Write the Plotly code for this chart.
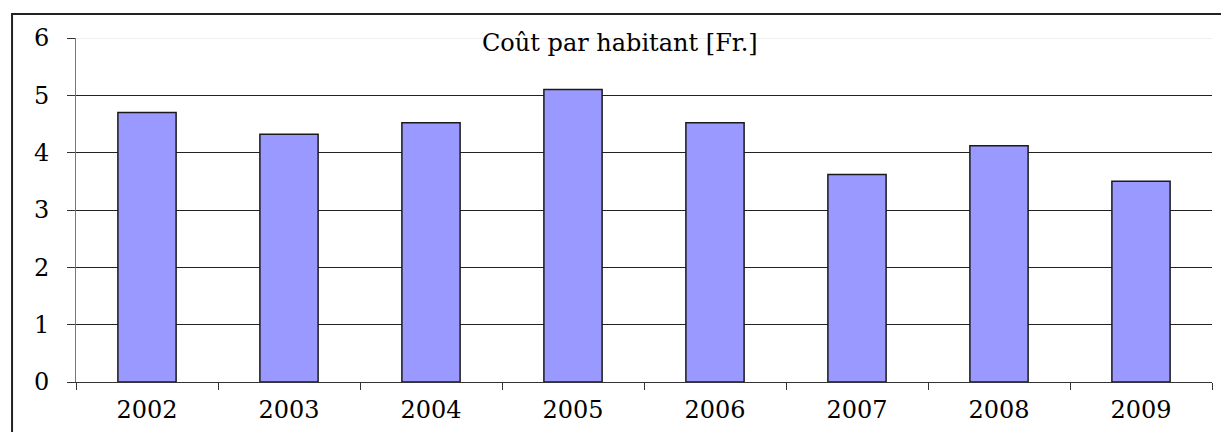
import plotly.graph_objects as go

years = ["2002", "2003", "2004", "2005", "2006", "2007", "2008", "2009"]
cost = [4.7, 4.32, 4.52, 5.1, 4.52, 3.62, 4.12, 3.5]
y_ticks = [0, 1, 2, 3, 4, 5, 6]
title_text = "Coût par habitant [Fr.]"

FONT = "DejaVu Serif"

fig = go.Figure(go.Bar(
    x=years, y=cost,
    marker=dict(color="#9999FF", line=dict(color="#1a1a1a", width=1.5)),
    width=0.41,
    hoverinfo="skip",
))

fig.update_layout(
    width=1221, height=432,
    margin=dict(l=76, r=9, t=38, b=50),
    paper_bgcolor="white", plot_bgcolor="white",
    showlegend=False,
    font=dict(family=FONT, size=24, color="black"),
    xaxis=dict(
        type="category", tickson="boundaries", ticks="outside", ticklen=7,
        tickcolor="#333", showline=True, linecolor="#333", linewidth=1,
        showgrid=False, tickfont=dict(size=24), ticklabelstandoff=6,
    ),
    yaxis=dict(
        range=[0, 6], tickvals=y_ticks, ticks="outside", ticklen=8,
        tickcolor="#333", showline=True, linecolor="#777", linewidth=1,
        showgrid=True, gridcolor="#222", gridwidth=1, zeroline=False,
        tickfont=dict(size=24), ticklabelstandoff=13,
    ),
    annotations=[dict(
        text=title_text, xref="paper", yref="paper", x=0.3556, y=0.985,
        xanchor="left", yanchor="middle", showarrow=False,
        font=dict(family=FONT, size=24, color="black"),
    )],
    shapes=[
        dict(type="line", xref="paper", yref="y", x0=0, x1=1, y0=6, y1=6,
             line=dict(color="#e0e0e0", width=1), layer="above"),
        dict(type="rect", xref="paper", yref="paper", x0=-0.0563, x1=1.05,
             y0=-0.3, y1=1.0698, line=dict(color="#222", width=2),
             fillcolor="rgba(0,0,0,0)", layer="above"),
    ],
)

fig.write_html("out.html", config={"displayModeBar": False},
               post_script="document.body.style.margin='0';")
